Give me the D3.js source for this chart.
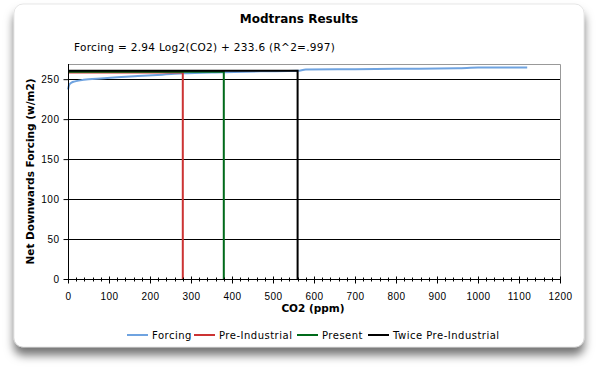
<!DOCTYPE html>
<html>
<head>
<meta charset="utf-8">
<script src="https://cdn.jsdelivr.net/npm/d3@7"></script>
<style>
  body { margin: 0; background: #fff; }
  svg { display: block; font-family: "DejaVu Sans", Verdana, sans-serif; }
</style>
</head>
<body>
<svg width="598" height="370"></svg>
<script>
// Modtrans output: CO2 (ppm) vs net downwards forcing (w/m2)
const co2 =     [0,   3,   8,   15,  30,  50,  80,  120, 170, 230, 280,   380,   470,   560,   580,   700,   800,   950,   1000,  1120];
const forcing = [237, 243, 245.5, 247, 248.5, 249.8, 251, 252.5, 254, 255.7, 257.4, 258.8, 259.8, 260.5, 262,   262.5, 263,   263.6, 264.6, 264.6];

// reference levels
const markerNames = ["Pre-Industrial", "Present", "Twice Pre-Industrial"];
const markerCo2 = [280, 380, 560];
const markerLevel = [258.3, 259.3, 260.4];
const markerColors = ["#cc3333", "#006a1a", "#000000"];

const legendNames = ["Forcing", ...markerNames];
const legendColors = ["#6fa3e0", ...markerColors];

const xTicks = d3.range(0, 1201, 100);
const yTicks = d3.range(0, 251, 50);

const svg = d3.select("svg");

// panel with drop shadow
const defs = svg.append("defs");
const f = defs.append("filter").attr("id", "shadow")
    .attr("x", "-10%").attr("y", "-10%").attr("width", "120%").attr("height", "130%");
f.append("feDropShadow").attr("dx", 0).attr("dy", 8).attr("stdDeviation", 5)
    .attr("flood-color", "#000").attr("flood-opacity", 0.55);

svg.append("rect")
    .attr("x", 14).attr("y", 4).attr("width", 570).attr("height", 343)
    .attr("rx", 9).attr("fill", "#fff").attr("stroke", "#ccc").attr("stroke-width", 0.5)
    .attr("filter", "url(#shadow)");

const x = d3.scaleLinear().domain([0, 1200]).range([68, 560]);
const y = d3.scaleLinear().domain([0, 269]).range([279, 64]);

// titles
svg.append("text").attr("x", 299).attr("y", 23).attr("text-anchor", "middle")
    .attr("font-weight", "bold").attr("font-size", 12).text("Modtrans Results");
svg.append("text").attr("x", 74).attr("y", 51).attr("letter-spacing", 0.3)
    .attr("font-size", 10.5).text("Forcing = 2.94 Log2(CO2) + 233.6 (R^2=.997)");

// gridlines
svg.append("g").selectAll("line").data(yTicks.filter(d => d > 0)).join("line")
    .attr("x1", x(0)).attr("x2", x(1200))
    .attr("y1", d => Math.round(y(d)) + 0.5).attr("y2", d => Math.round(y(d)) + 0.5)
    .attr("stroke", "#000").attr("stroke-width", 1);

// plot frame (top/right gray)
svg.append("path")
    .attr("d", `M${x(0)},${Math.round(y(269)) + 0.5}H${x(1200) + 0.5}V${y(0)}`)
    .attr("fill", "none").attr("stroke", "#999");

// forcing curve
const line = d3.line().x((d, i) => x(co2[i])).y(d => y(d)).curve(d3.curveMonotoneX);
svg.append("path").datum(forcing)
    .attr("d", line)
    .attr("fill", "none").attr("stroke", legendColors[0]).attr("stroke-width", 2);

// reference markers
markerCo2.forEach((c, i) => {
    svg.append("path")
        .attr("d", d3.line()([[x(0), y(markerLevel[i])], [x(c), y(markerLevel[i])], [x(c), y(0)]]))
        .attr("fill", "none").attr("stroke", markerColors[i]).attr("stroke-width", 2);
});

// y axis
const yAxis = svg.append("g").attr("transform", `translate(${x(0) + 0.5},0)`)
    .call(d3.axisLeft(y).tickValues(yTicks).tickSize(5).tickPadding(4));
yAxis.select(".domain").attr("d", `M0,${y(269)}V${y(0)}`);
yAxis.selectAll("text").attr("font-size", 10).attr("fill", "#000")
    .attr("font-family", null).attr("letter-spacing", 0.5);

// x axis
const xAxis = svg.append("g").attr("transform", `translate(0,${y(0) + 0.5})`)
    .call(d3.axisBottom(x).tickValues(xTicks).tickFormat(d3.format("d")).tickSize(4).tickPadding(9));
xAxis.select(".domain").attr("d", `M${x(0)},0H${x(1200)}`);
xAxis.selectAll(".tick line").attr("y1", -3);
xAxis.selectAll("text").attr("font-size", 10).attr("fill", "#000")
    .attr("font-family", null).attr("letter-spacing", 0.5);
xAxis.append("g").selectAll("line")
    .data(d3.range(20, 1200, 20).filter(d => d % 100 !== 0)).join("line")
    .attr("x1", d => Math.round(x(d)) + 0.5).attr("x2", d => Math.round(x(d)) + 0.5)
    .attr("y1", -2).attr("y2", 2).attr("stroke", "#000");

// axis titles
svg.append("text").attr("x", 313).attr("y", 312).attr("text-anchor", "middle")
    .attr("font-weight", "bold").attr("font-size", 10.5).text("CO2 (ppm)");
svg.append("text")
    .attr("transform", `translate(34,${(y(0) + y(269)) / 2}) rotate(-90)`)
    .attr("text-anchor", "middle")
    .attr("font-weight", "bold").attr("font-size", 10.5).text("Net Downwards Forcing (w/m2)");

// legend
const legendX = [127, 194, 297, 368];
const legend = svg.append("g").selectAll("g").data(legendNames).join("g")
    .attr("transform", (d, i) => `translate(${legendX[i]},335)`);
legend.append("line").attr("x1", 0).attr("x2", 21).attr("y1", 0).attr("y2", 0)
    .attr("stroke", (d, i) => legendColors[i]).attr("stroke-width", 2);
legend.append("text").attr("x", 25).attr("y", 4).attr("font-size", 10)
    .attr("letter-spacing", 0.5).text(d => d);
</script>
</body>
</html>
